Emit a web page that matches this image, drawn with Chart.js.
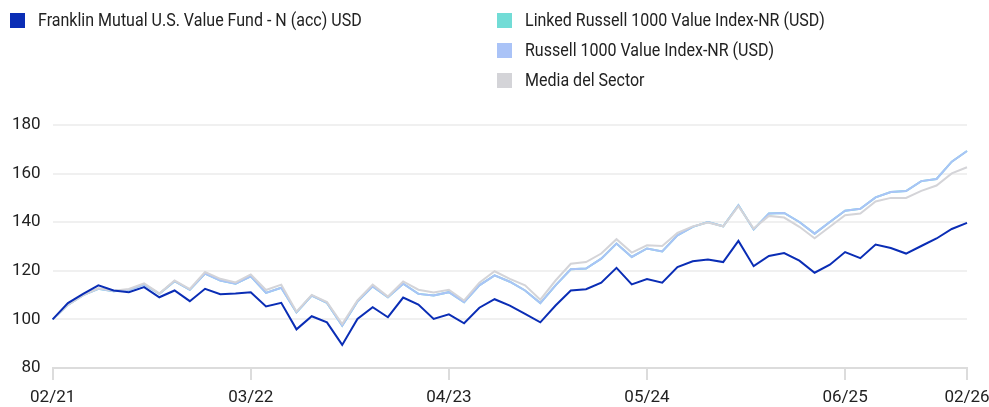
<!DOCTYPE html>
<html>
<head>
<meta charset="utf-8">
<script src="https://cdn.jsdelivr.net/npm/chart.js@4"></script>
<style>
  body { margin: 0; background: #fff; font-family: 'Roboto', sans-serif; }
  #wrap { position: relative; width: 989px; height: 407px; }
  #chart { position: absolute; left: 0; top: 0; }
  .legend { position: absolute; font-size: 18px; color: #222; }
  .legend div { height: 30px; line-height: 30px; white-space: nowrap; }
  .legend span.sw { display: inline-block; width: 15px; height: 15px; margin-right: 13px; vertical-align: -2px; }
  .legend span.tx { display: inline-block; transform: scaleX(0.89); transform-origin: left center; }
</style>
</head>
<body>
<div id="wrap">
  <canvas id="chart" width="989" height="407"></canvas>
  <div class="legend" id="legLeft" style="left:10px; top:5px;"></div>
  <div class="legend" id="legRight" style="left:497px; top:5px;"></div>
</div>
<script>
// Monthly values, 02/21 .. 02/26 (growth of 100)
const months = [];
for (let y = 21; y <= 26; y++) {
  for (let m = 1; m <= 12; m++) {
    if ((y === 21 && m < 2) || (y === 26 && m > 2)) continue;
    months.push(String(m).padStart(2, '0') + '/' + y);
  }
}
const tickIndices = [0, 13, 26, 39, 52, 60];

const fundValues = [100, 106.7, 110.5, 114, 111.9, 111.2, 113.3, 109.1, 111.9, 107.5, 112.6, 110.4, 110.7, 111.2, 105.3, 106.8, 95.9, 101.3, 98.8, 89.5,
  100.2, 105, 100.9, 109, 106.1, 100.2, 102.1, 98.4, 104.8, 108.3, 105.7, 102.3, 98.8, 105.7, 111.9, 112.4, 115.1, 121.2, 114.4, 116.6,
  115.1, 121.5, 123.9, 124.6, 123.6, 132.3, 121.9, 126.1, 127.3, 124.2, 119.2, 122.5, 127.7, 125.2, 130.8, 129.4, 127.1, 130.2, 133.3, 137.2, 139.7];
const russellValues = [100, 106, 110, 112.6, 111.6, 112.2, 114.4, 110.5, 115.7, 112.2, 118.9, 116, 114.7, 117.7, 110.9, 113, 102.9, 109.8, 106.8, 97.4,
  107.4, 113.6, 109.1, 114.7, 110.5, 109.8, 111.2, 107.1, 114, 118.1, 115.5, 111.9, 106.7, 114, 120.6, 120.9, 125, 131.2, 125.7, 129.2,
  128, 134.6, 138.1, 140.1, 138.3, 147, 137, 143.6, 143.8, 140.1, 135.3, 140.1, 144.7, 145.5, 150.2, 152.4, 152.8, 156.9, 157.8, 164.9, 169.3];
const linkedValues = russellValues.slice();
const sectorValues = [100, 106, 110, 112.8, 111.8, 112.5, 114.8, 110.7, 116, 112.5, 119.5, 116.7, 115.2, 118.5, 112.1, 114.3, 103.2, 110.1, 107.1, 98.1,
  107.8, 114.3, 109.4, 115.6, 112.2, 111.1, 112.2, 107.8, 115.1, 119.8, 116.7, 114, 108.1, 116, 122.9, 123.6, 127.1, 133, 127.5, 130.5,
  130.2, 135.6, 138.3, 139.9, 138.3, 146.6, 137.4, 142.6, 141.9, 138.1, 133.4, 138.1, 142.9, 143.6, 148.5, 150, 150, 152.9, 155.1, 160.1, 162.6];
const yTicks = [80, 100, 120, 140, 160, 180];

const series = [
  { label: 'Franklin Mutual U.S. Value Fund - N (acc) USD', data: fundValues, color: '#0a2db5', col: 'left', order: 0 },
  { label: 'Linked Russell 1000 Value Index-NR (USD)', data: linkedValues, color: '#72dcd6', col: 'right', order: 3 },
  { label: 'Russell 1000 Value Index-NR (USD)', data: russellValues, color: '#aac3f7', col: 'right', order: 2 },
  { label: 'Media del Sector', data: sectorValues, color: '#d4d4d8', col: 'right', order: 1 }
];

// HTML legend
series.forEach(s => {
  const row = document.createElement('div');
  row.innerHTML = `<span class="sw" style="background:${s.color}"></span><span class="tx">${s.label}</span>`;
  document.getElementById(s.col === 'left' ? 'legLeft' : 'legRight').appendChild(row);
});

const font = { family: "'Roboto', sans-serif", size: 17, lineHeight: 1 };

new Chart(document.getElementById('chart'), {
  type: 'line',
  data: {
    labels: months,
    datasets: series.map(s => ({
      label: s.label,
      data: s.data,
      borderColor: s.color,
      borderWidth: 2,
      pointRadius: 0,
      tension: 0,
      order: s.order
    }))
  },
  options: {
    responsive: false,
    animation: false,
    layout: { padding: { top: 125, left: 0, right: 0, bottom: -8 } },
    plugins: { legend: { display: false }, tooltip: { enabled: false } },
    scales: {
      x: {
        offset: false,
        afterBuildTicks: axis => { axis.ticks = axis.ticks.filter(t => tickIndices.includes(t.value)); },
        afterFit: axis => { axis.paddingRight = 22; },
        ticks: {
          autoSkip: false, maxRotation: 0, color: '#222', font, padding: 9,
          callback: function (v) { return this.getLabelForValue(v); }
        },
        grid: { drawOnChartArea: false, drawTicks: true, tickLength: 12, color: '#dcdcdc', lineWidth: 2 },
        border: { display: true, color: '#dcdcdc', width: 2 }
      },
      y: {
        min: 80, max: 180,
        afterBuildTicks: axis => { axis.ticks = yTicks.map(v => ({ value: v })); },
        ticks: { color: '#222', font, padding: 12 },
        grid: { color: '#f0f0f0', lineWidth: 2, drawTicks: false },
        border: { display: false }
      }
    }
  }
});
</script>
</body>
</html>
